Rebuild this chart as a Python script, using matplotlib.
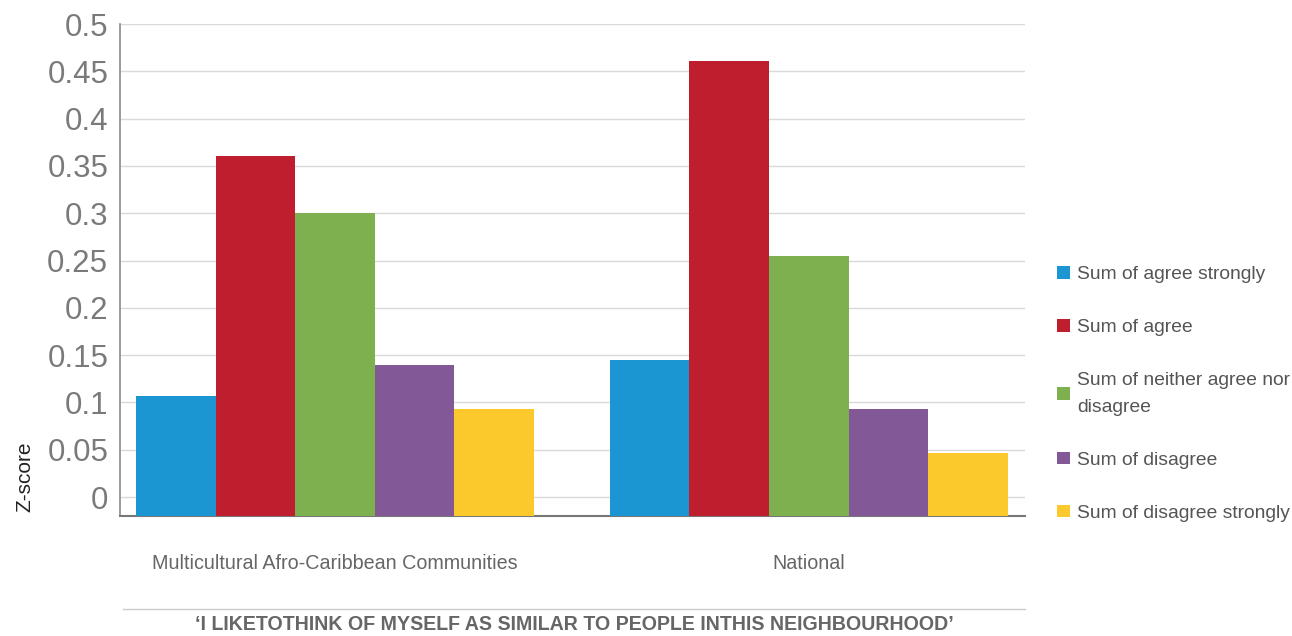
import matplotlib
matplotlib.use("Agg")
import matplotlib.pyplot as plt
import numpy as np

plt.rcParams['font.family'] = ['Liberation Sans', 'DejaVu Sans']

categories = ["Multicultural Afro-Caribbean Communities", "National"]
series = ["Sum of agree strongly", "Sum of agree", "Sum of neither agree nor\ndisagree",
          "Sum of disagree", "Sum of disagree strongly"]
agree_strongly = [0.107, 0.145]
agree = [0.361, 0.461]
neither = [0.300, 0.255]
disagree = [0.140, 0.093]
disagree_strongly = [0.093, 0.047]
values = [agree_strongly, agree, neither, disagree, disagree_strongly]
colors = ["#1B96D3", "#BE1E2D", "#7EB050", "#825896", "#FCC92D"]
yticks = [0, 0.05, 0.1, 0.15, 0.2, 0.25, 0.3, 0.35, 0.4, 0.45, 0.5]
ytick_labels = ["0", "0.05", "0.1", "0.15", "0.2", "0.25", "0.3", "0.35", "0.4", "0.45", "0.5"]
title = "‘I LIKETOTHINK OF MYSELF AS SIMILAR TO PEOPLE INTHIS NEIGHBOURHOOD’"

fig = plt.figure(figsize=(12.92, 6.36), dpi=100)
ax = fig.add_axes([120/1292, 1-516/636, 905/1292, (516-24)/636])

ymin = -0.02
x = np.arange(len(categories))
w = 0.168
for i, (vals, c, lab) in enumerate(zip(values, colors, series)):
    v = np.array(vals)
    ax.bar(x + (i - 2) * w, v - ymin, bottom=ymin, width=w, color=c, label=lab, zorder=3)

ax.set_ylim(ymin, 0.5)
ax.set_xlim(-0.4536, 1.456)
ax.set_yticks(yticks)
ax.set_yticklabels(ytick_labels)
ax.tick_params(axis='y', length=0, pad=8.5, labelsize=22.5, labelcolor='#7a7a7a')
ax.set_xticks(x)
ax.set_xticklabels(categories)
ax.tick_params(axis='x', length=0, pad=27.5, labelsize=14.2, labelcolor='#666666')
ax.grid(axis='y', color='#d9d9d9', lw=1, zorder=0)
for s in ['top', 'right']:
    ax.spines[s].set_visible(False)
ax.spines['left'].set_color('#8a8a8a')
ax.spines['left'].set_linewidth(1.2)
ax.spines['bottom'].set_color('#777777')
ax.spines['bottom'].set_linewidth(1.5)

fig.text(25/1292, 1-477/636, "Z-score", rotation=90, ha='center', va='center',
         fontsize=15, color='#222222')

# line and title
fig.add_artist(plt.Line2D([123/1292, 1025/1292], [1-609/636, 1-609/636],
                          color='#cccccc', lw=1, transform=fig.transFigure))
fig.text(574/1292, 1-625/636, title, ha='center', va='center', fontsize=14.1,
         fontweight='bold', color='#666666')

leg = ax.legend(loc='center left', bbox_to_anchor=(1057/1292, 1-394/636),
                bbox_transform=fig.transFigure, frameon=False, fontsize=13.9,
                handlelength=0.65, handleheight=0.65, handletextpad=0.4,
                labelspacing=1.85, borderaxespad=0, borderpad=0)
for t in leg.get_texts():
    t.set_color('#555555')
    t.set_linespacing(1.75)

fig.savefig("out.png", dpi=100)
